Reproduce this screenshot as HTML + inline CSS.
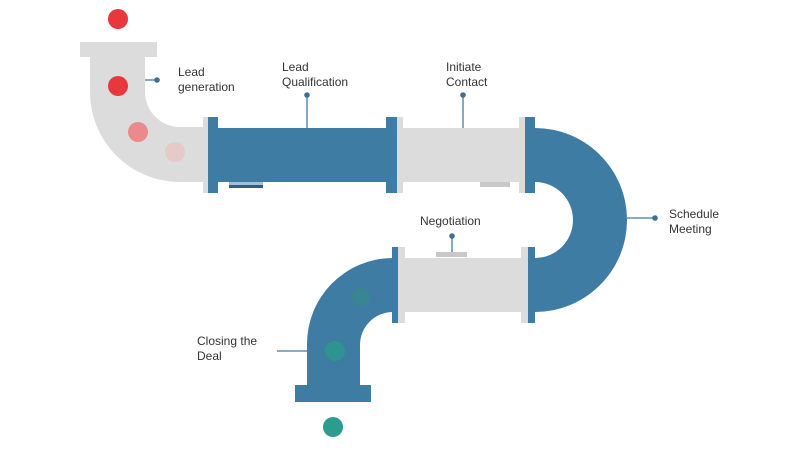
<!DOCTYPE html><html><head><style>body{margin:0;background:#fff}svg{display:block}text{font-family:"Liberation Sans",sans-serif;font-size:12px;fill:#333}</style></head><body>
<svg width="800" height="450" viewBox="0 0 800 450">
<g fill="#dcdcdc">
<rect x="80" y="42" width="77" height="15"/>
<path d="M90 57 H145 V92 A35 35 0 0 0 180 127 H210 V182 H180 A90 90 0 0 1 90 92 Z"/>
<rect x="203" y="117" width="6" height="76"/>
<rect x="390" y="128" width="136" height="54"/>
<rect x="397" y="117" width="6" height="76"/>
<rect x="519" y="117" width="6" height="76"/>
<rect x="398" y="258" width="125" height="54"/>
<rect x="398" y="247" width="7" height="76"/>
<rect x="521" y="247" width="7" height="76"/>
<rect x="436" y="252" width="31" height="5" fill="#c8c8c8"/>
<rect x="480" y="182" width="30" height="5" fill="#c8c8c8"/>
</g>
<g fill="#3f7ca3">
<rect x="218" y="128" width="170" height="54"/>
<rect x="208" y="117" width="10" height="76"/>
<rect x="386" y="117" width="11" height="76"/>
<path d="M525 128 H535 A92 92 0 0 1 535 312 H528 V258 H535 A38 38 0 0 0 535 182 H525 Z"/>
<rect x="525" y="117" width="10" height="76"/>
<rect x="528" y="247" width="7" height="76"/>
<path d="M398 258 V312 H393 A33 33 0 0 0 360 345 V386 H307 V345 A86 86 0 0 1 393 258 Z"/>
<rect x="392" y="247" width="6" height="76"/>
<rect x="295" y="385" width="76" height="17"/>
<rect x="229" y="185" width="34" height="3" fill="#2f5f80"/>
</g>
<rect x="229" y="182" width="34" height="3" fill="#9fc0d8"/>
<circle cx="118" cy="19" r="10" fill="#e8383d"/>
<circle cx="118" cy="86" r="10" fill="#e8383d"/>
<circle cx="138" cy="132" r="10" fill="#ea8a8c"/>
<circle cx="175" cy="152" r="10" fill="#e6caca"/>
<circle cx="333" cy="427" r="10" fill="#2a9d8f"/>
<circle cx="335" cy="351" r="10" fill="#2e948f"/>
<circle cx="361" cy="297" r="9" fill="#38868f"/>
<g stroke="#3f7ca3" stroke-width="1.3" fill="none">
<path d="M145 80 H157"/><path d="M307 95 V128"/><path d="M463 95 V128"/><path d="M627 218 H655"/><path d="M452 236 V252"/><path d="M277 351 H307"/>
</g>
<g fill="#3f6f92">
<circle cx="157" cy="80" r="2.8"/><circle cx="307" cy="95" r="2.8"/><circle cx="463" cy="95" r="2.8"/><circle cx="655" cy="218" r="2.8"/><circle cx="452" cy="236" r="2.8"/>
</g>
<text x="178" y="76">Lead</text><text x="178" y="91">generation</text>
<text x="282" y="71">Lead</text><text x="282" y="86">Qualification</text>
<text x="446" y="71">Initiate</text><text x="446" y="86">Contact</text>
<text x="669" y="218">Schedule</text><text x="669" y="233">Meeting</text>
<text x="420" y="225">Negotiation</text>
<text x="197" y="345">Closing the</text><text x="197" y="360">Deal</text>
</svg></body></html>
